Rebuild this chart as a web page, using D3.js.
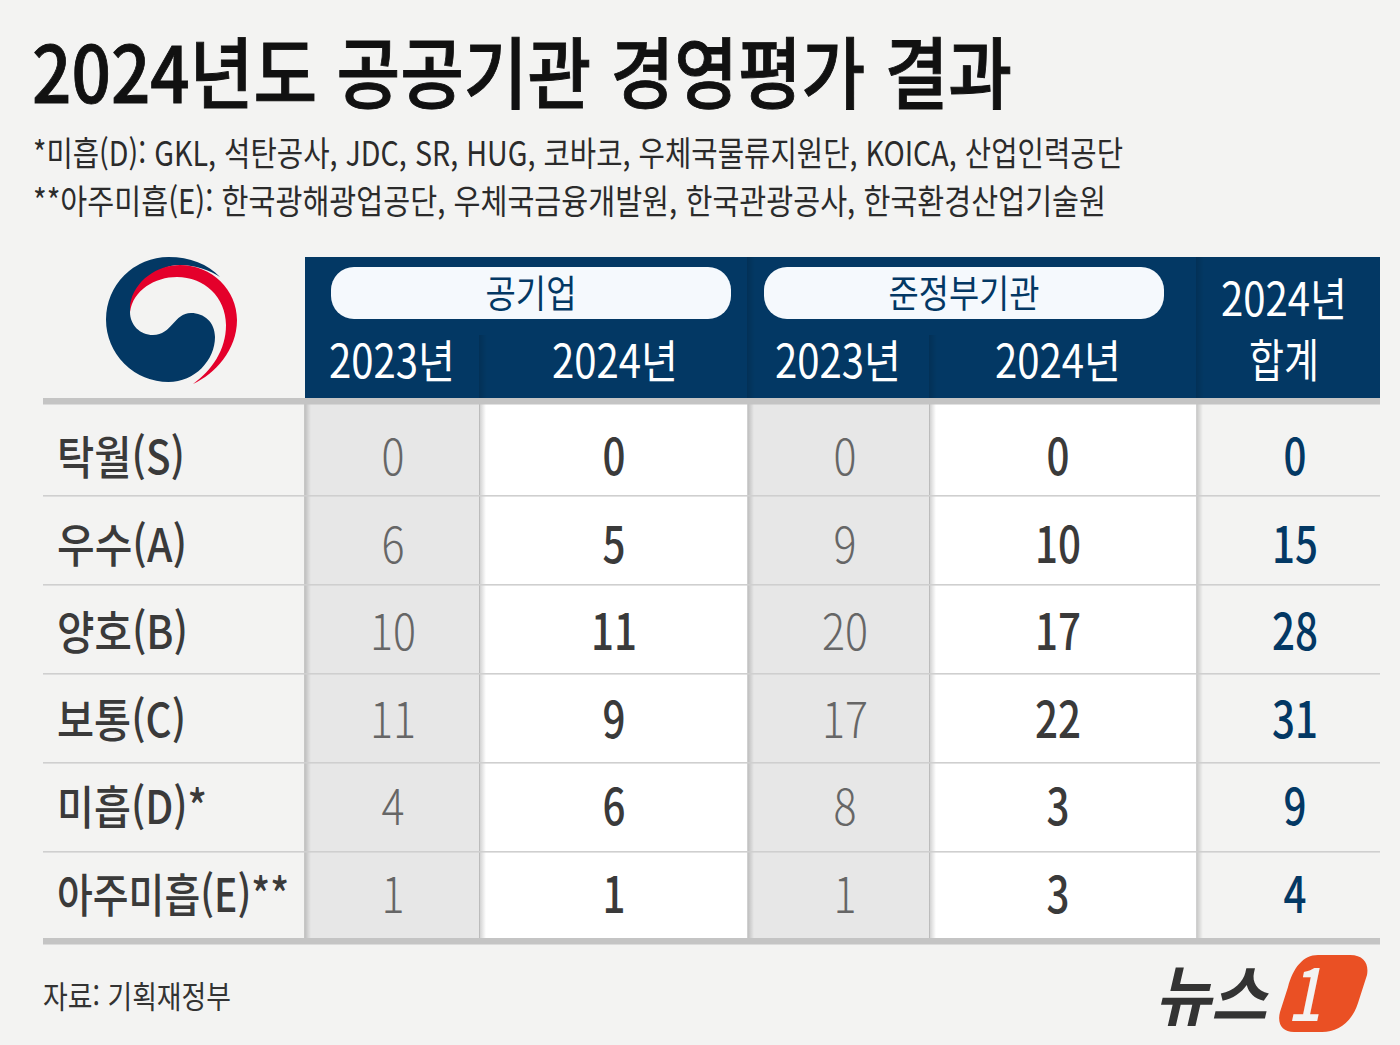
<!DOCTYPE html>
<html lang="ko"><head><meta charset="utf-8">
<script src="https://cdn.jsdelivr.net/npm/d3@7"></script>
<style>html,body{margin:0;padding:0;background:#f3f3f2}svg{display:block}text{font-family:"Noto Sans CJK KR","Noto Sans",sans-serif}</style>
</head><body><svg id="c" width="1400" height="1045"></svg>
<script>
const title = "2024년도 공공기관 경영평가 결과";
const note1 = "*미흡(D): GKL, 석탄공사, JDC, SR, HUG, 코바코, 우체국물류지원단, KOICA, 산업인력공단";
const note2 = "**아주미흡(E): 한국광해광업공단, 우체국금융개발원, 한국관광공사, 한국환경산업기술원";
const source = "자료: 기획재정부";
const grades = ["탁월(S)", "우수(A)", "양호(B)", "보통(C)", "미흡(D)*", "아주미흡(E)**"];
const gradeWidths = [128, 130, 131, 129, 150, 232];
const columns = ["pub23", "pub24", "qua23", "qua24", "total"];
const columnLabels = ["2023년", "2024년", "2023년", "2024년", "합계"];
const pub23 = [0, 6, 10, 11, 4, 1];
const pub24 = [0, 5, 11, 9, 6, 1];
const qua23 = [0, 9, 20, 17, 8, 1];
const qua24 = [0, 10, 17, 22, 3, 3];
const total = [0, 15, 28, 31, 9, 4];
const series = [pub23, pub24, qua23, qua24, total];

const NAVY = "#033864", RULE = "#c4c4c4", BG = "#f3f3f2";
const svg = d3.select("#c");
svg.append("rect").attr("width", 1400).attr("height", 1045).attr("fill", BG);
const defs = svg.append("defs");
const sh = defs.append("linearGradient").attr("id", "shade");
sh.append("stop").attr("offset", 0).attr("stop-color", "#000").attr("stop-opacity", .2);
sh.append("stop").attr("offset", 1).attr("stop-color", "#000").attr("stop-opacity", 0);
const shn = defs.append("linearGradient").attr("id", "shadeN");
shn.append("stop").attr("offset", 0).attr("stop-color", "#000").attr("stop-opacity", .14);
shn.append("stop").attr("offset", 1).attr("stop-color", "#000").attr("stop-opacity", 0);

function fit(x, y, str, size, width, fill, weight, anchor) {
  return svg.append("text").attr("x", x).attr("y", y).attr("font-size", size)
    .attr("fill", fill).attr("font-weight", weight || 400).attr("text-anchor", anchor || "start")
    .attr("textLength", width).attr("lengthAdjust", "spacingAndGlyphs").text(str);
}

// column bands
const xEdge = d3.scaleOrdinal().domain(columns).range([305, 480, 748, 930, 1197]);
const xEnd = d3.scaleOrdinal().domain(columns).range([480, 748, 930, 1197, 1380]);
const xNum = d3.scaleOrdinal().domain(columns).range([393, 614, 845, 1058, 1295]);
const xHead = d3.scaleOrdinal().domain(columns).range([392, 615, 838, 1058, 1284]);
const fills = d3.scaleOrdinal().domain(columns).range(["#e7e7e7", "#ffffff", "#e7e7e7", "#ffffff", BG]);
const numFill = d3.scaleOrdinal().domain(columns).range(["#666666", "#3a3a3a", "#666666", "#3a3a3a", NAVY]);
const numWeight = d3.scaleOrdinal().domain(columns).range([300, 500, 300, 500, 500]);
const y = d3.scaleBand().domain(grades).range([406, 940]);
const yText = d3.scalePoint().domain(grades).range([457, 895]);

// title, notes
fit(32, 103, title, 78, 980, "#111", 500).attr("stroke", "#111").attr("stroke-width", 0.9);
fit(33, 166, note1, 34, 1090, "#2b2b2b", 400);
fit(33, 214, note2, 34, 1073, "#2b2b2b", 400);

// body fills
svg.selectAll(".col").data(columns).join("rect").attr("class", "col")
  .attr("x", d => xEdge(d)).attr("y", 400).attr("height", 540)
  .attr("width", d => xEnd(d) - xEdge(d)).attr("fill", d => fills(d));
svg.selectAll(".cs").data(columns).join("rect").attr("class", "cs")
  .attr("x", d => xEdge(d) - 1).attr("y", 400).attr("height", 540).attr("width", 7).attr("fill", "url(#shade)");

// header
svg.append("rect").attr("x", 305).attr("y", 257).attr("width", 1075).attr("height", 141).attr("fill", NAVY);
svg.selectAll(".hs").data(columns.slice(1)).join("rect").attr("class", "hs")
  .attr("x", d => xEdge(d) - 1).attr("width", 8).attr("fill", "url(#shadeN)")
  .attr("y", d => (d === "pub24" || d === "qua24") ? 335 : 257)
  .attr("height", d => (d === "pub24" || d === "qua24") ? 63 : 141);

// pills
const pills = [["공기업", 331, 400, 531, 91], ["준정부기관", 764, 400, 964, 151]];
pills.forEach(p => {
  svg.append("rect").attr("x", p[1]).attr("y", 267).attr("width", p[2]).attr("height", 52).attr("rx", 23).attr("fill", "#f5f9fd");
  fit(p[3], 307, p[0], 38, p[4], NAVY, 400, "middle");
});
svg.selectAll(".hd").data(columns.slice(0, 4)).join("text").attr("class", "hd")
  .attr("x", d => xHead(d)).attr("y", 378).attr("text-anchor", "middle").attr("font-size", 46)
  .attr("fill", "#fff").attr("textLength", 126).attr("lengthAdjust", "spacingAndGlyphs")
  .text((d, i) => columnLabels[i]);
fit(1284, 316, "2024년", 46, 126, "#fff", 400, "middle");
fit(1284, 377, columnLabels[4], 46, 70, "#fff", 400, "middle");

// rules
svg.append("rect").attr("x", 43).attr("y", 398).attr("width", 1337).attr("height", 6.5).attr("fill", RULE);
svg.selectAll(".rw").data(grades.slice(1)).join("rect").attr("class", "rw")
  .attr("x", 43).attr("width", 1337).attr("height", 1.6).attr("y", d => y(d)).attr("fill", "#cfcfcf");
svg.append("rect").attr("x", 43).attr("y", 938).attr("width", 1337).attr("height", 6.5).attr("fill", RULE);

// row labels
svg.selectAll(".gl").data(grades).join("text").attr("class", "gl")
  .attr("x", 57).attr("y", d => yText(d) + 17).attr("font-size", 46)
  .attr("font-weight", 500).attr("fill", "#3a3a3a")
  .attr("textLength", (d, i) => gradeWidths[i]).attr("lengthAdjust", "spacingAndGlyphs").text(d => d);

// cells
columns.forEach((c, ci) => {
  svg.selectAll(".n" + c).data(series[ci]).join("text").attr("class", "n" + c)
    .attr("x", xNum(c)).attr("y", (d, i) => yText(grades[i]) + 18)
    .attr("text-anchor", "middle").attr("font-size", 50)
    .attr("font-weight", numWeight(c)).attr("fill", numFill(c))
    .attr("textLength", d => d >= 10 ? 46 : 23).attr("lengthAdjust", "spacingAndGlyphs").text(d => d);
});

// source
fit(43, 1008, source, 31, 188, "#333", 400);

// emblem
const emblem = svg.append("g");
emblem.append("path").attr("fill", NAVY)
  .attr("d", "M168.5 257 A62.5 62.5 0 0 0 168.5 382 C195 382 215 360 215 337 C215 322 204 313 191 313 C174 313 172 335 153 335 C140 335 130 325 130 312 C130 290 155 265 180 265 C195 265 210 270 220 277 C208 264 190 257 168.5 257Z");
emblem.append("path").attr("fill", "#e4002b")
  .attr("d", "M130 305 C134 280 158 265 180 265 C212 265 237 290 237 320 C237 350 215 374 193 384 C212 370 226 350 226 325 C226 297 204 277 177 277 C155 277 133 290 130 312Z");

// logo
svg.append("text").attr("x", 1155).attr("y", 1020).attr("font-size", 66).attr("font-weight", 700)
  .attr("fill", "#333").attr("font-style", "italic").attr("textLength", 112).attr("lengthAdjust", "spacingAndGlyphs").text("뉴스");
svg.append("path").attr("fill", "#ea5024")
  .attr("d", "M1318 955 H1350 C1364 955 1369 964 1367 975 L1358 1003 C1352 1022 1338 1032 1322 1032 H1294 C1282 1032 1277 1024 1280 1012 L1288 987 C1293 968 1303 955 1318 955Z");
svg.append("text").attr("x", 1287).attr("y", 1021).attr("font-size", 72).attr("font-weight", 500)
  .attr("fill", BG).attr("font-style", "italic").attr("textLength", 34).attr("lengthAdjust", "spacingAndGlyphs").text("1");
</script></body></html>
